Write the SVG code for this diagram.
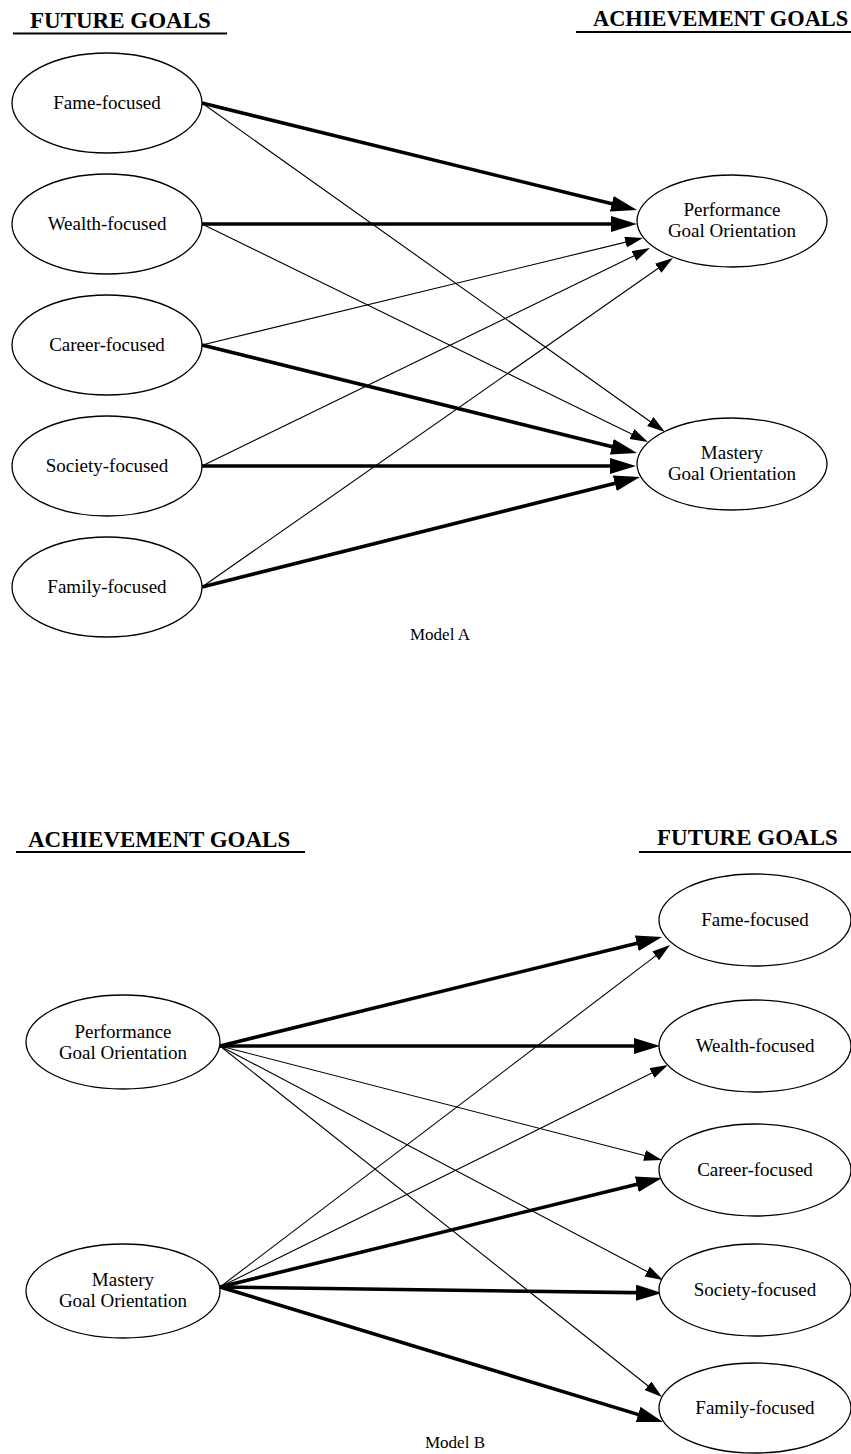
<svg xmlns="http://www.w3.org/2000/svg" width="851" height="1454" viewBox="0 0 851 1454">
<style>
.n ellipse{fill:#fff;stroke:#000;stroke-width:1.3}
.n text{font-family:"Liberation Serif","Times New Roman",serif;font-size:19px;text-anchor:middle;fill:#000}
.h{font-family:"Liberation Serif","Times New Roman",serif;font-size:23px;font-weight:bold;fill:#000}
.ul{stroke:#000;stroke-width:2}
.cap{font-family:"Liberation Serif","Times New Roman",serif;font-size:17px;text-anchor:middle;fill:#000}
.thick{stroke:#000;stroke-width:3.6;fill:none;marker-end:url(#ak)}
.thin{stroke:#000;stroke-width:1.1;fill:none;marker-end:url(#an)}
</style>
<defs>
<marker id="ak" markerUnits="userSpaceOnUse" markerWidth="27" markerHeight="17" refX="16" refY="8" orient="auto"><path d="M0,0 L26,8 L0,16 z" fill="#000"/></marker>
<marker id="an" markerUnits="userSpaceOnUse" markerWidth="19" markerHeight="12" refX="14" refY="5.5" orient="auto"><path d="M0,0 L18,5.5 L0,11 z" fill="#000"/></marker>
</defs>
<rect width="851" height="1454" fill="#fff"/>

<g id="headers">
<text class="h" x="30" y="28">FUTURE GOALS</text>
<line class="ul" x1="13" y1="33.5" x2="227" y2="33.5"/>
<text class="h" x="593" y="26" style="font-size:22.4px">ACHIEVEMENT GOALS</text>
<line class="ul" x1="576" y1="32" x2="851" y2="32"/>
<text class="h" x="28" y="847">ACHIEVEMENT GOALS</text>
<line class="ul" x1="16" y1="852" x2="305" y2="852"/>
<text class="h" x="657" y="845">FUTURE GOALS</text>
<line class="ul" x1="639" y1="852" x2="851" y2="852"/>
</g>

<g id="connectors">
<line class="thick" x1="202" y1="103" x2="627.3" y2="207.6"/>
<line class="thick" x1="202" y1="224" x2="627" y2="224"/>
<line class="thin" x1="202" y1="345" x2="639.1" y2="238.9"/>
<line class="thin" x1="202" y1="466" x2="646.4" y2="249.8"/>
<line class="thin" x1="202" y1="587" x2="669.7" y2="260.3"/>
<line class="thin" x1="202" y1="103" x2="661.7" y2="429.7"/>
<line class="thin" x1="202" y1="224" x2="644.4" y2="440.2"/>
<line class="thick" x1="202" y1="345" x2="627.3" y2="450.6"/>
<line class="thick" x1="202" y1="466" x2="626" y2="466"/>
<line class="thick" x1="202" y1="587" x2="630.3" y2="479.4"/>

<line class="thick" x1="220" y1="1046" x2="652.3" y2="939.4"/>
<line class="thick" x1="220" y1="1046" x2="650" y2="1046"/>
<line class="thin" x1="220" y1="1046" x2="658.1" y2="1159"/>
<line class="thin" x1="220" y1="1046" x2="659.5" y2="1278.1"/>
<line class="thin" x1="220" y1="1046" x2="658.9" y2="1394.5"/>
<line class="thin" x1="220" y1="1287" x2="666.8" y2="947.4"/>
<line class="thin" x1="220" y1="1287" x2="664.4" y2="1066.8"/>
<line class="thick" x1="220" y1="1287" x2="652.3" y2="1180.4"/>
<line class="thick" x1="220" y1="1287" x2="652" y2="1292.9"/>
<line class="thick" x1="220" y1="1287" x2="653.4" y2="1419.1"/>
</g>

<g id="a-fame" class="n"><ellipse cx="107" cy="103" rx="95" ry="50"/><text x="107" y="109">Fame-focused</text></g>
<g id="a-wealth" class="n"><ellipse cx="107" cy="224" rx="95" ry="50"/><text x="107" y="230">Wealth-focused</text></g>
<g id="a-career" class="n"><ellipse cx="107" cy="345" rx="95" ry="50"/><text x="107" y="351">Career-focused</text></g>
<g id="a-society" class="n"><ellipse cx="107" cy="466" rx="95" ry="50"/><text x="107" y="472">Society-focused</text></g>
<g id="a-family" class="n"><ellipse cx="107" cy="587" rx="95" ry="50"/><text x="107" y="593">Family-focused</text></g>
<g id="a-performance" class="n"><ellipse cx="732" cy="221" rx="95" ry="46"/><text x="732" y="216">Performance</text><text x="732" y="237">Goal Orientation</text></g>
<g id="a-mastery" class="n"><ellipse cx="732" cy="464" rx="95" ry="46"/><text x="732" y="459">Mastery</text><text x="732" y="480">Goal Orientation</text></g>
<text class="cap" x="440" y="640">Model A</text>

<g id="b-performance" class="n"><ellipse cx="123" cy="1042" rx="97" ry="47"/><text x="123" y="1038">Performance</text><text x="123" y="1059">Goal Orientation</text></g>
<g id="b-mastery" class="n"><ellipse cx="123" cy="1291" rx="97" ry="47"/><text x="123" y="1286">Mastery</text><text x="123" y="1307">Goal Orientation</text></g>
<g id="b-fame" class="n"><ellipse cx="755" cy="920" rx="96" ry="46"/><text x="755" y="926">Fame-focused</text></g>
<g id="b-wealth" class="n"><ellipse cx="755" cy="1046" rx="96" ry="46"/><text x="755" y="1052">Wealth-focused</text></g>
<g id="b-career" class="n"><ellipse cx="755" cy="1170" rx="96" ry="46"/><text x="755" y="1176">Career-focused</text></g>
<g id="b-society" class="n"><ellipse cx="755" cy="1290" rx="96" ry="46"/><text x="755" y="1296">Society-focused</text></g>
<g id="b-family" class="n"><ellipse cx="755" cy="1408" rx="96" ry="45"/><text x="755" y="1414">Family-focused</text></g>
<text class="cap" x="455" y="1448">Model B</text>
</svg>
